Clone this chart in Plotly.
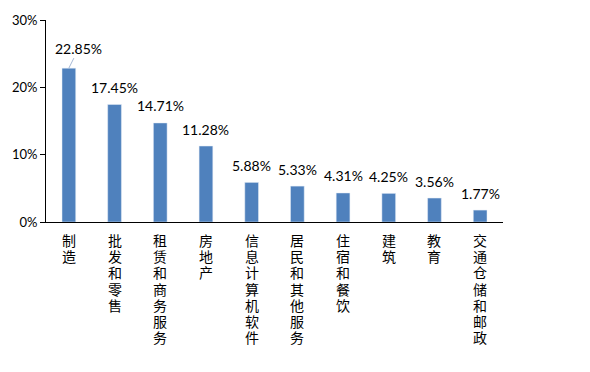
import plotly.graph_objects as go

categories = ["制造", "批发和零售", "租赁和商务服务", "房地产", "信息计算机软件",
              "居民和其他服务", "住宿和餐饮", "建筑", "教育", "交通仓储和邮政"]
values = [22.85, 17.45, 14.71, 11.28, 5.88, 5.33, 4.31, 4.25, 3.56, 1.77]
value_labels = ["22.85%", "17.45%", "14.71%", "11.28%", "5.88%", "5.33%",
                "4.31%", "4.25%", "3.56%", "1.77%"]

yvals = [v / 100 for v in values]
num_font = dict(family="Lato, Noto Sans, sans-serif", size=14, color="#000000")
cjk_font = dict(family="Liberation Sans, Noto Sans CJK SC", size=14, color="#000000")
PITCH = 16.2

fig = go.Figure()
fig.add_trace(go.Bar(
    x=categories, y=yvals, marker_color="#4F81BD", width=0.3,
    hoverinfo="skip",
))

annotations = []
for i, (c, v, t) in enumerate(zip(categories, yvals, value_labels)):
    if i == 0:
        annotations.append(dict(
            x=c, y=v, text=t, showarrow=True, ax=10, ay=-20,
            arrowhead=0, arrowwidth=1, arrowcolor="#A6B9D6",
            standoff=0, startstandoff=0, font=num_font,
        ))
    else:
        annotations.append(dict(
            x=c, y=v, text=t, showarrow=False, yanchor="middle", yshift=17,
            font=num_font,
        ))
    # vertical category label: one character per line
    for k, ch in enumerate(c):
        annotations.append(dict(
            x=c, y=0, text=ch, showarrow=False, xanchor="center", yanchor="top",
            yshift=-(10 + k * PITCH), font=cjk_font, borderpad=0,
        ))

fig.update_layout(
    width=590, height=372,
    margin=dict(l=44, r=87, t=12, b=150),
    paper_bgcolor="white", plot_bgcolor="white",
    showlegend=False,
    annotations=annotations,
    xaxis=dict(
        showticklabels=False,
        showline=True, linecolor="#000000", linewidth=1,
        ticks="", showgrid=False,
        range=[-0.5, 9.5],
    ),
    yaxis=dict(
        range=[0, 0.3], dtick=0.1, tickformat=".0%",
        showline=True, linecolor="#000000", linewidth=1,
        ticks="outside", ticklen=5, tickcolor="#000000",
        showgrid=False, zeroline=False,
        tickfont=dict(family="Lato, Noto Sans, sans-serif", size=13, color="#000000"),
    ),
)

fig.write_html("out.html")
